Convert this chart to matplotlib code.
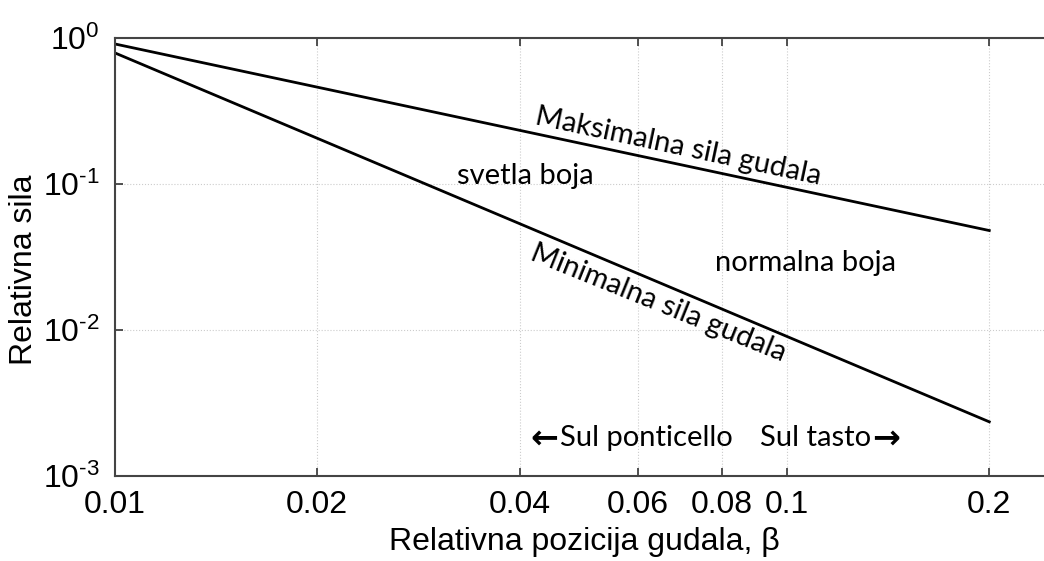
import numpy as np
import matplotlib.pyplot as plt
from matplotlib.ticker import FixedLocator, FixedFormatter, NullLocator

# Granice sile gudala (log-log, pravci)
beta = [0.01, 0.2]
max_sila = [0.91, 0.048]
min_sila = [0.79, 0.00235]

xticks = [0.01, 0.02, 0.04, 0.06, 0.08, 0.1, 0.2]
xtick_labels = ["0.01", "0.02", "0.04", "0.06", "0.08", "0.1", "0.2"]
yticks = [1e-3, 1e-2, 1e-1, 1]
ytick_labels = [r"$10^{\text{-}3}$", r"$10^{\text{-}2}$", r"$10^{\text{-}1}$", r"$10^{0}$"]

plt.rcParams['mathtext.fontset'] = 'custom'
plt.rcParams['mathtext.rm'] = 'Liberation Sans'
plt.rcParams['mathtext.it'] = 'Liberation Sans'
plt.rcParams['font.family'] = 'Liberation Sans'

fig = plt.figure(figsize=(10.44, 5.61), dpi=100)
ax = fig.add_axes([115/1044, 85/561, 939.4/1044, 438/561])

ax.plot(beta, max_sila, color='black', lw=2)
ax.plot(beta, min_sila, color='black', lw=2)

ax.set_xscale('log')
ax.set_yscale('log')
ax.set_xlim(0.01, 0.25)
ax.set_ylim(1e-3, 1)

ax.xaxis.set_major_locator(FixedLocator(xticks))
ax.xaxis.set_major_formatter(FixedFormatter(xtick_labels))
ax.xaxis.set_minor_locator(NullLocator())
ax.yaxis.set_major_locator(FixedLocator(yticks))
ax.yaxis.set_major_formatter(FixedFormatter(ytick_labels))
ax.yaxis.set_minor_locator(NullLocator())

ax.tick_params(axis='both', which='major', direction='in', length=6, width=1.2,
               labelsize=23, color='#333333', top=True, right=False)
ax.tick_params(axis='x', pad=10)
ax.tick_params(axis='y', pad=11)

for side in ['left', 'top', 'bottom']:
    ax.spines[side].set_color('#444444')
    ax.spines[side].set_linewidth(1.5)
ax.spines['right'].set_visible(False)

ax.grid(True, which='major', color='#cccccc', linestyle=':', lw=0.8)

ax.set_xlabel("Relativna pozicija gudala, β", fontsize=23, labelpad=5)
ax.set_ylabel("Relativna sila", fontsize=23)
ax.yaxis.set_label_coords(-0.081, 0.47)

ann = ['Lato', 'DejaVu Sans']
fs = 21
ax.text(0.0689, 0.179, "Maksimalna sila gudala", fontsize=fs, family=ann,
        rotation=-12, ha='center', va='center')
ax.text(0.0408, 0.1135, "svetla boja", fontsize=fs, family=ann,
        ha='center', va='center')
ax.text(0.1067, 0.0288, "normalna boja", fontsize=fs, family=ann,
        ha='center', va='center')
ax.text(0.0643, 0.0153, "Minimalna sila gudala", fontsize=fs, family=ann,
        rotation=-22, ha='center', va='center')
ax.text(0.0617, 0.00182, "Sul ponticello", fontsize=fs, family=ann,
        ha='center', va='center')
ax.text(0.0436, 0.00182, "←", fontsize=24, family='DejaVu Sans', weight='bold',
        ha='center', va='center')
ax.text(0.1104, 0.00182, "Sul tasto", fontsize=fs, family=ann,
        ha='center', va='center')
ax.text(0.1405, 0.00182, "→", fontsize=24, family='DejaVu Sans', weight='bold',
        ha='center', va='center')

plt.savefig("out.png", dpi=100)
